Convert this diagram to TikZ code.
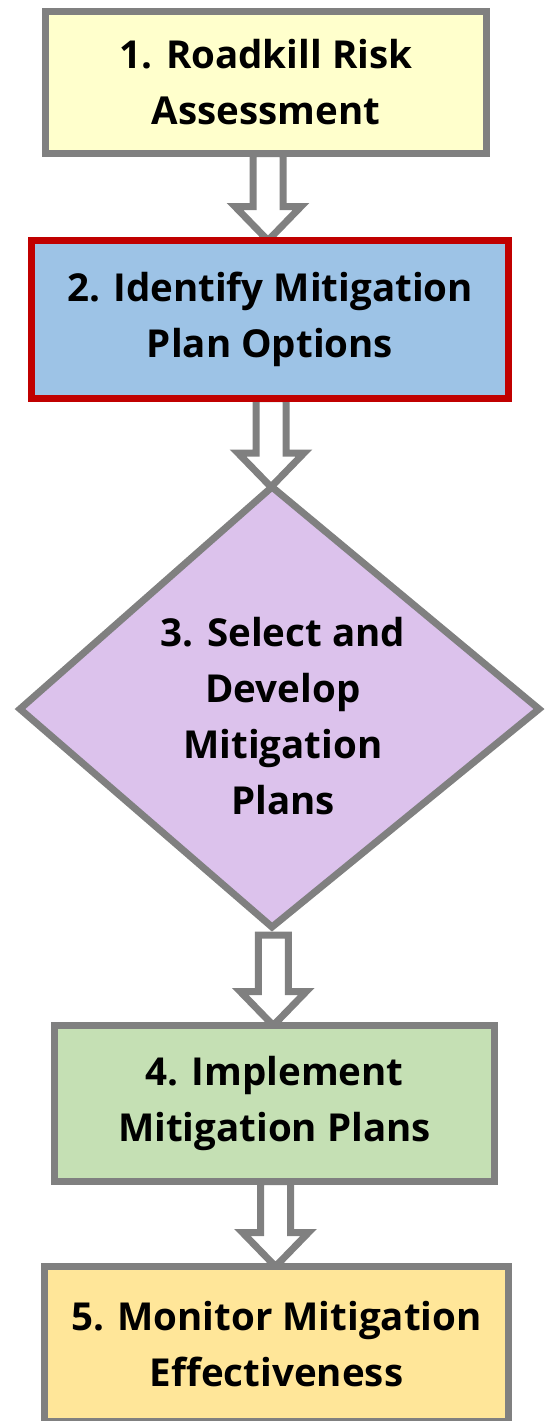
\documentclass[tikz,border=0pt]{standalone}
\usepackage{fontspec}
\setmainfont{Open Sans}
\usetikzlibrary{calc,backgrounds}
\definecolor{bgray}{HTML}{808080}
\definecolor{bred}{HTML}{C00000}
\definecolor{cyellow}{HTML}{FFFFCC}
\definecolor{cblue}{HTML}{9DC3E6}
\definecolor{cpurple}{HTML}{DCC2EC}
\definecolor{cgreen}{HTML}{C5E0B4}
\definecolor{corange}{HTML}{FFE699}
\newcommand\harr[2]{%
  \path[harrow] let \p1=(#1), \p2=(#2), \n1={(\x1+\x2)/2} in
    (\n1-15pt,\y1) -- (\n1-15pt,\y2+34pt) -- (\n1-33pt,\y2+34pt) -- (\n1+0pt,\y2)
    -- (\n1+33pt,\y2+34pt) -- (\n1+15pt,\y2+34pt) -- (\n1+15pt,\y1) -- cycle;}
\begin{document}
\begin{tikzpicture}[x=1pt,y=-1pt,
  txt/.style={align=center, inner sep=0pt, outer sep=0pt,
    font=\bfseries\fontsize{38.5}{56}\selectfont},
  box/.style={txt, draw=bgray, line width=7pt, line join=miter},
  harrow/.style={draw=bgray, fill=white, line width=7pt, line join=miter}]
\useasboundingbox (0,0) rectangle (545,1421);
\node[box, fill=cyellow, minimum width=441pt, minimum height=142pt] (b1) at (266,82.5)
  {1. Roadkill Risk\\Assessment};
\node[box, draw=bred, fill=cblue, minimum width=477pt, minimum height=158pt] (b2) at (270,319.5)
  {2. Identify Mitigation\\Plan Options};
\draw[draw=bgray, fill=cpurple, line width=7pt, line join=miter]
  (272,487) -- (539,709) -- (272,927) -- (20,709) -- cycle;
\coordinate (dtop) at (272,487);
\coordinate (dbot) at (272,935);
\node[txt] (d) at (283,716.5) {3. Select and\\Develop\\Mitigation\\Plans};
\node[box, fill=cgreen, minimum width=440pt, minimum height=156pt] (b4) at (274.5,1103.5)
  {4. Implement\\Mitigation Plans};
\node[box, fill=corange, minimum width=464pt, minimum height=155pt] (b5) at (276.5,1344)
  {5. Monitor Mitigation\\Effectiveness};
\begin{scope}[on background layer]
\harr{b1.south}{b2.north}
\harr{b2.south}{dtop}
\harr{dbot}{b4.north}
\harr{b4.south}{b5.north}
\end{scope}
\end{tikzpicture}
\end{document}
